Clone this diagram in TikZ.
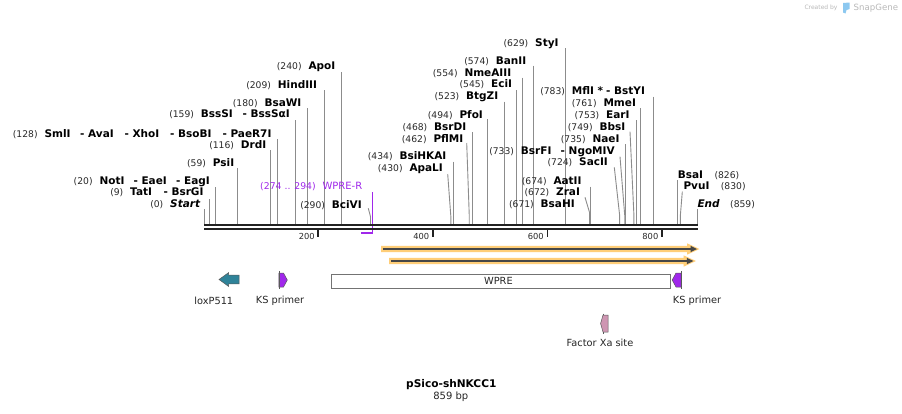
\documentclass[tikz,border=0pt]{standalone}
\usepackage{fontspec}
\setmainfont{DejaVu Sans}
\usetikzlibrary{arrows.meta}
\definecolor{sitegray}{RGB}{140,140,140}
\definecolor{backbone}{RGB}{34,34,34}
\definecolor{numgray}{RGB}{40,40,40}
\definecolor{primerpurple}{RGB}{160,40,235}
\definecolor{loxteal}{RGB}{47,131,153}
\definecolor{orfdark}{RGB}{70,70,70}
\definecolor{orfglow}{RGB}{255,206,120}
\definecolor{xapink}{RGB}{206,150,178}
\definecolor{sgblue}{RGB}{140,200,240}
\definecolor{sggray}{RGB}{185,185,185}

\newcommand\labL[5]{%
  \node[enzname] (#1) at (#2,#3+3.7) {#5};
  \node[enznum,anchor=base east] (#1num) at ([xshift=-6.5pt]#1.base west) {#4};}
\newcommand\labPart[4]{%
  \node[enzname] (#1) at (#2,#3+3.7) {#4};}
\newcommand\labR[6]{%
  \node[enzname] (#1) at (#2,#3+3.7) {#5};
  \node[enznum,anchor=base west] (#1num) at (#6,#3+3.7) {#4};}
\newcommand\sitev[3]{%
  \coordinate (#1t) at (#2,#3);
  \coordinate (#1b) at (#2,224.5);
  \draw[siteline] (#1t) -- (#1b);}
\newcommand\sitea[5]{%
  \coordinate (#1t) at (#2,#3);
  \coordinate (#1k) at (#4,#5);
  \coordinate (#1b) at (#4,224.5);
  \draw[siteline] (#1t) -- (#1k) -- (#1b);}
\newcommand\bbtick[3]{%
  \coordinate (#1a) at (#2,230);
  \coordinate (#1z) at (#2,236.8);
  \draw[tickmark] (#1a) -- (#1z);
  \node[ticklab] (#1lab) at (#2-3.5,239) {#3};}

\begin{document}
\begin{tikzpicture}[x=1pt,y=-1pt,
  enzname/.style={font=\fontsize{10.5}{12}\selectfont\bfseries, inner sep=0pt, anchor=base west},
  enznum/.style={font=\fontsize{9.2}{11}\selectfont, text=numgray, inner sep=0pt},
  siteline/.style={draw=sitegray, line width=0.9pt},
  bbline/.style={draw=backbone, line width=2.5pt},
  tickmark/.style={draw=backbone, line width=1.8pt},
  ticklab/.style={font=\fontsize{8.3}{10}\selectfont, text=numgray, inner sep=0pt, anchor=base east},
  primerline/.style={draw=primerpurple, line width=1.8pt},
  primertext/.style={font=\fontsize{10}{12}\selectfont, text=primerpurple, inner sep=0pt, anchor=base west},
  primernum/.style={font=\fontsize{9.3}{11}\selectfont, text=primerpurple, inner sep=0pt, anchor=base east},
  orfglowshape/.style={fill=orfglow},
  orfline/.style={draw=orfdark, line width=1.9pt},
  orfhead/.style={fill=orfdark},
  featlab/.style={font=\fontsize{9.8}{12}\selectfont, text=black!85, inner sep=0pt},
  featbox/.style={draw=black!55, line width=0.7pt, fill=white},
  featshape/.style={draw=black!65, line width=0.5pt},
  titlefont/.style={font=\fontsize{10.6}{12}\selectfont\bfseries, inner sep=0pt},
  subfont/.style={font=\fontsize{10}{12}\selectfont, text=black!85, inner sep=0pt}
]
\useasboundingbox (0,0) rectangle (902,413);
\fill[white] (0,0) rectangle (902,413);

% ---------- Created by SnapGene ----------
\node[font=\fontsize{6}{7}\selectfont, text=sggray, inner sep=0pt, anchor=west] (createdby) at (804.3,7.7) {Created by};
\fill[sgblue] (843,3) -- (849.5,2.5) -- (849.5,9) -- (846.5,10) -- (845.5,13.5) -- (843,12.5) -- cycle;
\node[font=\fontsize{8.6}{10}\selectfont, text=sggray, inner sep=0pt, anchor=west] (snapgene) at (853.5,7.7) {SnapGene};

% ---------- site lines ----------
\sitev{s0}{204}{209}
\sitev{s9}{209.2}{199}
\sitev{s20}{215.5}{187}
\sitev{s59}{237.9}{168}
\sitev{s116}{270.6}{150}
\sitev{s128}{277.5}{139}
\sitev{s159}{295.3}{120}
\sitev{s180}{307.3}{108}
\sitev{s209}{324}{90}
\sitev{s240}{341.8}{72}
\sitea{s290}{368.3}{208.3}{370.5}{216.7}
\sitev{s434}{453.1}{161.7}
\sitea{s430}{447.7}{174}{450.8}{216}
\sitea{s462}{466.7}{143}{469.2}{214}
\sitev{s468}{472.6}{132}
\sitev{s494}{487.6}{119}
\sitev{s523}{504.2}{101.7}
\sitev{s545}{516.8}{90}
\sitev{s554}{522}{77.7}
\sitev{s574}{533.5}{65.7}
\sitev{s629}{565}{48.3}
\sitev{s671}{589.2}{213}
\sitea{s672}{585}{197.3}{589.7}{213}
\sitev{s674}{590.9}{186.7}
\sitea{s724}{614.3}{167.3}{619.6}{215}
\sitea{s733}{620}{156.7}{624.7}{215}
\sitev{s735}{625.9}{144.3}
\sitea{s749}{630}{131.7}{633.9}{215}
\sitev{s753}{636.2}{120}
\sitev{s761}{640.8}{108}
\sitev{s783}{653.4}{96.7}
\sitev{s826}{677.9}{180}
\sitea{s830}{682.3}{191.7}{680.4}{215}
\sitev{s859}{697.7}{209.3}

% ---------- labels, left ----------
\labL{L0}{170}{204}{(0)}{\itshape Start}
\labL{L9}{130}{191.7}{(9)}{TatI}
\labPart{L9b}{163.3}{191.7}{- BsrGI}
\labL{L20}{99.3}{180.7}{(20)}{NotI}
\labPart{L20b}{133.3}{180.7}{- EaeI}
\labPart{L20c}{176}{180.7}{- EagI}
\labL{L59}{212.7}{162.7}{(59)}{PsiI}
\labL{L116}{240.7}{145}{(116)}{DrdI}
\labL{L128}{44.3}{133.3}{(128)}{SmlI}
\labPart{L128b}{80}{133.3}{- AvaI}
\labPart{L128c}{124.3}{133.3}{- XhoI}
\labPart{L128d}{170}{133.3}{- BsoBI}
\labPart{L128e}{222.3}{133.3}{- PaeR7I}
\labL{L159}{200.7}{113.7}{(159)}{BssSI}
\labPart{L159b}{242.3}{113.7}{- BssSαI}
\labL{L180}{264.3}{102.3}{(180)}{BsaWI}
\labL{L209}{277.7}{84.3}{(209)}{HindIII}
\labL{L240}{308.3}{66}{(240)}{ApoI}
\labL{L290}{331.7}{204.3}{(290)}{BciVI}

% ---------- labels, middle ----------
\labL{L434}{399.3}{156}{(434)}{BsiHKAI}
\labL{L430}{409.3}{167.7}{(430)}{ApaLI}
\labL{L462}{433.3}{138.3}{(462)}{PflMI}
\labL{L468}{434}{126.7}{(468)}{BsrDI}
\labL{L494}{459.3}{114.3}{(494)}{PfoI}
\labL{L523}{466}{96}{(523)}{BtgZI}
\labL{L545}{491}{84}{(545)}{EciI}
\labL{L554}{464.3}{72.3}{(554)}{NmeAIII}
\labL{L574}{495.7}{60.7}{(574)}{BanII}
\labL{L629}{535}{42.7}{(629)}{StyI}
\labL{L671}{540.5}{203.7}{(671)}{BsaHI}
\labL{L672}{556}{192}{(672)}{ZraI}
\labL{L674}{553.3}{180.5}{(674)}{AatII}
\labL{L724}{579}{161.7}{(724)}{SacII}
\labL{L733}{520.7}{150.5}{(733)}{BsrFI}
\labPart{L733b}{560.5}{150.5}{- NgoMIV}
\labL{L735}{592.3}{138.3}{(735)}{NaeI}
\labL{L749}{599.3}{126.7}{(749)}{BbsI}
\labL{L753}{606}{114.3}{(753)}{EarI}
\labL{L761}{603.3}{102.7}{(761)}{MmeI}
\labL{L783}{571.7}{91}{(783)}{MflI *}
\labPart{L783b}{606}{91}{- BstYI}

% ---------- labels, right ----------
\labR{L826}{677.7}{174.3}{(826)}{BsaI}{714.3}
\labR{L830}{683.3}{186}{(830)}{PvuI}{720.7}
\labR{L859}{697.3}{204}{(859)}{\itshape End}{730}

% ---------- primer WPRE-R ----------
\node[primertext] (wprer) at (322.3,189.7) {WPRE-R};
\node[primernum] (wprernum) at (316,189.7) {(274 .. 294)};
\coordinate (wp1) at (372.5,192.3);
\coordinate (wp2) at (372.5,233.3);
\coordinate (wp3) at (361,233.3);
\draw[primerline] (wp1) -- (wp2) -- (wp3);

% ---------- backbone ----------
\coordinate (bbL) at (204,225.2);
\coordinate (bbR) at (697.7,225.2);
\coordinate (bbL2) at (204,229);
\coordinate (bbR2) at (697.7,229);
\draw[bbline] (bbL) -- (bbR);
\draw[bbline] (bbL2) -- (bbR2);

\bbtick{t200}{318.3}{200}
\bbtick{t400}{432.8}{400}
\bbtick{t600}{547.4}{600}
\bbtick{t800}{662}{800}

% ---------- ORF arrows ----------
\fill[orfglowshape] (381,245.8) -- (687,245.8) -- (687,243.3) -- (699.5,249) -- (687,254.7) -- (687,252.2) -- (381,252.2) -- cycle;
\coordinate (o1s) at (382.7,249);
\coordinate (o1e) at (691,249);
\draw[orfline] (o1s) -- (o1e);
\fill[orfhead] (690.5,245.8) -- (697,249) -- (690.5,252.2) -- cycle;

\fill[orfglowshape] (389.2,257.8) -- (683.5,257.8) -- (683.5,255.3) -- (696,261) -- (683.5,266.7) -- (683.5,264.2) -- (389.2,264.2) -- cycle;
\coordinate (o2s) at (390.9,261);
\coordinate (o2e) at (687.2,261);
\draw[orfline] (o2s) -- (o2e);
\fill[orfhead] (686.8,257.8) -- (693.3,261) -- (686.8,264.2) -- cycle;

% ---------- features ----------
\filldraw[featshape, fill=loxteal] (219,279.5) -- (228.5,272.7) -- (228.5,275.2) -- (239,275.2) -- (239,283.8) -- (228.5,283.8) -- (228.5,286.3) -- cycle;
\node[featlab] (loxlab) at (213.8,300.7) {loxP511};

\filldraw[featshape, fill=primerpurple] (278.8,273) -- (283.5,273) -- (287.3,280) -- (283.5,287) -- (278.8,287) -- cycle;
\draw[featshape] (278.8,270.8) -- (278.8,289.2);
\node[featlab] (ks1lab) at (280,300.7) {KS primer};

\node[featbox, minimum width=339pt, minimum height=14pt, inner sep=0pt] (wpre) at (500.5,281.3) {};
\node[featlab] (wprelab) at (498.4,281) {WPRE};

\filldraw[featshape, fill=primerpurple] (681,273) -- (676,273) -- (672.2,280) -- (676,287) -- (681,287) -- cycle;
\draw[featshape] (681,270.8) -- (681,289.2);
\node[featlab] (ks2lab) at (697,300.7) {KS primer};

\filldraw[featshape, fill=xapink] (608,315) -- (603,315) -- (600.6,323.5) -- (603,332) -- (608,332) -- cycle;
\draw[featshape] (603,313.5) -- (603,315);
\draw[featshape] (603,332) -- (603,333.8);
\node[featlab] (xalab) at (600,343.3) {Factor Xa site};

% ---------- title ----------
\node[titlefont] (title) at (451.3,384.5) {pSico-shNKCC1};
\node[subfont] (bp) at (450.8,396.5) {859 bp};
\end{tikzpicture}
\end{document}
